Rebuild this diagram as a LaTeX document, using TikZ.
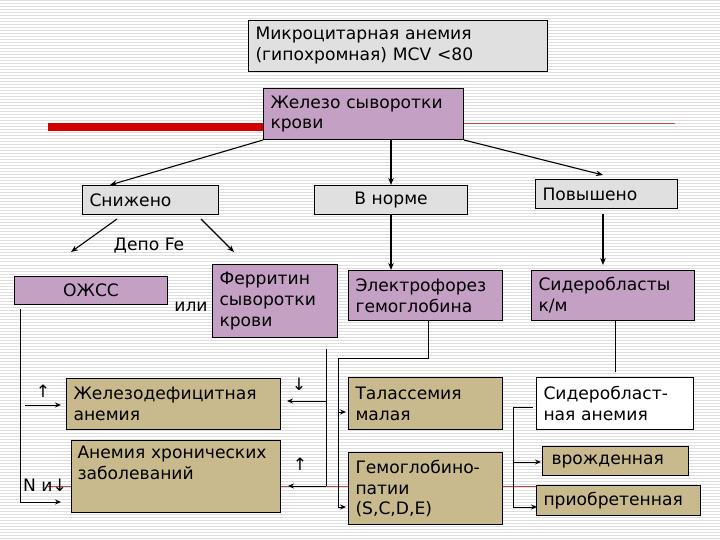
\documentclass[tikz,border=0pt]{standalone}
\usepackage{fontspec}
\setmainfont{DejaVu Sans}
\usetikzlibrary{arrows.meta,calc}
\definecolor{boxgray}{RGB}{224,224,224}
\definecolor{boxpurple}{RGB}{196,160,196}
\definecolor{boxkhaki}{RGB}{200,186,140}
\definecolor{stripegray}{RGB}{222,222,222}
\definecolor{deco}{RGB}{210,0,0}
\definecolor{decothin}{RGB}{185,70,70}
\begin{document}
\begin{tikzpicture}[x=1bp,y=-1bp,
  font=\fontsize{17.2}{21}\selectfont,
  stripe/.style={stripegray,line width=1bp},
  box/.style={draw=black,line width=1bp,anchor=north west,inner xsep=7bp,inner ysep=0bp,align=left},
  cbox/.style={draw=black,line width=1bp,anchor=north west,inner sep=0bp,align=center},
  conn/.style={line width=0.9bp},
  arr/.style={line width=0.9bp,-{Stealth[length=6bp,width=5bp]}},
  garr/.style={line width=1.1bp,-{Stealth[length=7bp,width=5.5bp]}},
  plain/.style={inner sep=0bp}]
\useasboundingbox (0,0) rectangle (720,540);
\fill[white] (0,0) rectangle (720,540);
\foreach \yy in {1,4,...,539} \draw[stripe] (0,\yy) -- (720,\yy);
% decorative template lines
\draw[deco,line width=8bp] (48,127) -- (264,127);
\draw[decothin,line width=1bp] (463,123.5) -- (675,123.5);
\draw[decothin,line width=1bp] (48,486.5) -- (700,486.5);

% boxes
\node[box,fill=boxgray,text width=285bp,minimum height=51bp] (top) at (248,20) {Микроцитарная анемия\\(гипохромная) MCV <80};
\node[box,fill=boxpurple,text width=186bp,minimum height=51bp] (iron) at (263,88) {Железо сыворотки\\крови};
\node[box,fill=boxgray,text width=122bp,minimum height=29bp] (low) at (82,185) {Снижено};
\node[cbox,fill=boxgray,text width=153bp,minimum height=29bp] (norm) at (314,185) {В норме};
\node[box,fill=boxgray,text width=128bp,minimum height=29bp] (high) at (535,179) {Повышено};
\node[plain] (depo) at (149,246) {Депо Fe};
\node[cbox,fill=boxpurple,text width=153bp,minimum height=28bp] (ojss) at (14,276) {ОЖСС};
\node[plain] (ili) at (191,307) {или};
\node[box,fill=boxpurple,text width=111bp,minimum height=73bp] (ferr) at (212,264) {Ферритин\\сыворотки\\крови};
\node[box,fill=boxpurple,text width=140bp,minimum height=50bp] (elec) at (348,270) {\mbox{Электрофорез}\\гемоглобина};
\node[box,fill=boxpurple,text width=149bp,minimum height=50bp] (sidb) at (531,270) {Сидеробласты\\к/м};
\node[box,fill=boxkhaki,text width=200bp,minimum height=51bp] (ida) at (66,378) {\mbox{Железодефицитная}\\анемия};
\node[box,fill=boxkhaki,text width=197bp,minimum height=72bp,inner xsep=6bp] (acd) at (71,440) {\mbox{Анемия хронических}\\заболеваний\\\strut};
\node[box,fill=boxkhaki,text width=140bp,minimum height=52bp] (thal) at (348,377) {Талассемия\\малая};
\node[box,fill=boxkhaki,text width=140bp,minimum height=72bp] (hbp) at (348,452) {Гемоглобино-\\патии\\(S,C,D,E)};
\node[box,fill=white,text width=143bp,minimum height=52bp] (sa) at (536,377) {Сидеробласт-\\ная анемия};
\node[box,fill=boxkhaki,text width=128bp,minimum height=29bp,inner xsep=9bp] (congen) at (542,446) {врожденная};
\node[box,fill=boxkhaki,text width=150bp,minimum height=30bp] (acq) at (536,485) {\mbox{приобретенная}};

% small arrow glyphs
\node[plain] (up1) at (43,391) {↑};
\node[plain] (nand) at (45,485) {N и↓};
\node[plain] (down2) at (299,384) {↓};
\node[plain] (up3) at (300,464) {↑};

% connectors from the iron box
\draw[garr] (iron.south west) -- ($(low.north west)+(28,0)$);
\draw[garr] (iron.south -| norm.north) -- (norm.north);
\draw[garr] (iron.south east) -- ($(high.north west)+(68,-4)$);
\draw[garr] (norm.south) -- (elec.north -| norm.south);
\draw[garr] ($(high.south west)+(68,5)$) -- ($(sidb.north west)+(72,-5)$);
% from Snizheno
\coordinate (d1) at (71,252);
\coordinate (d2) at (234,252);
\draw[garr] ($(low.south west)+(35,4)$) -- (d1);
\draw[garr] ($(low.south west)+(119,4)$) -- (d2);

% OZhSS branch
\coordinate (o1) at (20,309);
\coordinate (o2) at (20,502);
\coordinate (o3) at (25,405);
\draw[conn] (o1) -- (o2);
\draw[arr] (o2) -- ($(o2)+(41,0)$);
\draw[arr] (o3) -- ($(o3 -| ida.west)+(-5,0)$);

% Ferritin branch
\coordinate (f1) at (326,349);
\coordinate (f2) at (326,486);
\draw[conn] (f1) -- (f2);
\draw[arr] (326,401) -- ($(ida.east |- 0,401)+(6,0)$);
\draw[arr] (f2) -- ($(acd.east |- f2)+(7,0)$);

% Electrophoresis branch
\coordinate (e1) at (elec.south -| 428,0);
\coordinate (e2) at (428,358);
\coordinate (e3) at (338,358);
\coordinate (e4) at (338,507);
\draw[conn] (e1) -- (e2) -- (e3) -- (e4);
\draw[arr] (338,412) -- ($(thal.west |- 0,412)+(-2,0)$);
\draw[arr] (e4) -- ($(hbp.west |- e4)+(-2,0)$);

% Sideroblast branch
\draw[conn] (sidb.south -| 615,0) -- (615,372);
\coordinate (s1) at (533,407);
\coordinate (s2) at (513,407);
\coordinate (s3) at (513,507);
\draw[conn] (s1) -- (s2) -- (s3);
\draw[arr] (513,462) -- ($(congen.west |- 0,462)+(-1,0)$);
\draw[arr] (s3) -- ($(acq.west |- s3)+(1,0)$);
\end{tikzpicture}
\end{document}
